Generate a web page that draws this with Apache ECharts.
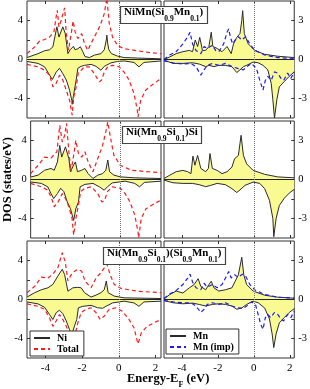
<!DOCTYPE html>
<html><head><meta charset="utf-8">
<script src="https://cdn.jsdelivr.net/npm/echarts@6/dist/echarts.min.js"></script>
<style>html,body{margin:0;padding:0;background:#fff}#c{width:310px;height:389px}</style>
</head><body><div id="c"></div>
<script>
// ---------- data (energy in eV, DOS in states/eV) ----------
// Row 1: NiMn(Si0.9Mn0.1)
const niUpA = [[-5,0.2],[-4.4,0.6],[-4.04,0.9],[-3.77,1.0],[-3.59,1.3],[-3.41,3.0],[-3.37,3.35],[-3.26,2.3],[-3.05,3.35],[-3.01,3.4],[-2.92,2.7],[-2.77,0.6],[-2.65,1.0],[-2.47,1.35],[-2.38,1.0],[-2.23,1.1],[-2.09,1.3],[-1.96,0.8],[-1.84,0.3],[-1.6,0.2],[-1.33,0.45],[-0.97,0.6],[-0.79,1.0],[-0.68,2.0],[-0.65,2.5],[-0.6,1.6],[-0.54,1.0],[-0.4,0.6],[-0.07,0.35],[0.29,0.2],[1.01,0.15],[2.3,0.07]];
const niDnA = [[-5,-0.2],[-4.4,-0.4],[-4.04,-0.75],[-3.77,-1.6],[-3.62,-2.05],[-3.41,-1.3],[-3.23,-0.9],[-3.05,-1.45],[-2.86,-2.1],[-2.68,-3.15],[-2.56,-4.2],[-2.54,-4.6],[-2.45,-3.5],[-2.32,-2.1],[-2.23,-0.9],[-2.05,-0.7],[-1.87,-0.6],[-1.51,-0.5],[-1.24,-0.7],[-0.97,-1.1],[-0.79,-0.7],[-0.43,-0.35],[-0.07,-0.2],[0.29,-0.15],[0.83,-0.3],[1.1,-0.75],[1.37,-0.3],[2.3,-0.15]];
const totUpA = [[-5,0.6],[-4.58,1.3],[-4.31,1.9],[-4.04,2.05],[-3.77,2.3],[-3.53,2.85],[-3.41,4.4],[-3.35,5.05],[-3.26,3.35],[-3.14,4.0],[-2.99,5.05],[-2.95,5.3],[-2.86,2.65],[-2.74,0.95],[-2.59,2.65],[-2.49,3.95],[-2.38,2.85],[-2.23,2.15],[-2.02,2.65],[-1.87,1.65],[-1.69,0.95],[-1.51,1.65],[-1.24,2.65],[-1.01,3.5],[-0.79,4.7],[-0.65,6.3],[-0.52,3.7],[-0.34,2.3],[-0.07,1.45],[0.29,1.1],[1.01,0.9],[1.73,0.7],[2.3,0.6]];
const totDnA = [[-5,-0.5],[-4.4,-0.75],[-4.04,-1.1],[-3.77,-1.6],[-3.59,-2.8],[-3.41,-2.45],[-3.23,-1.6],[-3.05,-2.1],[-2.86,-3.15],[-2.68,-4.2],[-2.54,-5.7],[-2.45,-3.8],[-2.32,-2.8],[-2.2,-1.3],[-2.05,-1.1],[-1.87,-0.75],[-1.6,-0.75],[-1.33,-1.45],[-1.06,-2.3],[-0.94,-2.1],[-0.79,-1.3],[-0.61,-0.75],[-0.34,-0.6],[0.02,-0.75],[0.29,-1.3],[0.56,-2.1],[0.83,-3.5],[1.01,-5.2],[1.05,-5.9],[1.19,-4.2],[1.46,-3.15],[1.82,-2.6],[2.3,-1.95]];
const mnUpA = [[-5,0],[-4.68,0.2],[-4.32,0.45],[-3.95,0.6],[-3.59,0.7],[-3.41,0.6],[-3.26,1.5],[-3.13,1.0],[-3.01,1.7],[-2.86,0.7],[-2.68,0.7],[-2.5,1.0],[-2.37,2.1],[-2.28,1.0],[-2.04,0.85],[-1.77,0.6],[-1.49,1.0],[-1.26,0.45],[-1.13,1.2],[-0.95,1.7],[-0.77,2.0],[-0.67,3.0],[-0.62,3.75],[-0.53,2.0],[-0.31,1.2],[0.05,0.7],[0.6,0.4],[1.33,0.25],[2.25,0.15]];
const mnDnA = [[-5,-0.05],[-4.5,-0.3],[-3.95,-0.3],[-3.41,-0.25],[-3.04,-0.35],[-2.68,-0.55],[-2.5,-0.45],[-2.22,-0.55],[-1.95,-0.45],[-1.58,-0.45],[-1.22,-0.55],[-0.95,-1.0],[-0.77,-0.8],[-0.58,-0.55],[-0.4,-0.45],[-0.04,-0.2],[0.24,-0.25],[0.51,-0.45],[0.78,-0.8],[0.97,-1.85],[1.06,-3.1],[1.15,-4.5],[1.28,-3.1],[1.42,-2.1],[1.69,-1.7],[1.97,-1.3],[2.25,-0.95]];
const impUpA = [[-5,0],[-4.68,0.35],[-4.32,0.6],[-3.95,1.2],[-3.68,1.75],[-3.55,2.1],[-3.41,1.2],[-3.22,0.7],[-2.95,0.45],[-2.77,1.0],[-2.59,0.85],[-2.31,1.1],[-2.13,0.7],[-1.95,0.6],[-1.68,1.2],[-1.49,2.1],[-1.4,2.35],[-1.31,1.75],[-1.18,1.2],[-1.04,1.5],[-0.86,1.75],[-0.67,1.5],[-0.46,1.75],[-0.22,1.2],[0.05,0.7],[0.6,0.35],[1.33,0.15],[2.25,0.08]];
const impDnA = [[-5,-0.1],[-4.5,-0.25],[-3.95,-0.35],[-3.5,-0.3],[-3.22,-0.55],[-2.95,-1.2],[-2.77,-0.8],[-2.59,-0.45],[-2.31,-0.3],[-1.95,-0.45],[-1.58,-0.3],[-1.22,-0.55],[-0.86,-0.7],[-0.58,-0.8],[-0.4,-0.55],[-0.13,-0.3],[0.15,-0.7],[0.33,-1.6],[0.51,-2.35],[0.64,-1.6],[0.78,-1.3],[0.97,-1.6],[1.15,-0.95],[1.33,-1.05],[1.51,-1.45],[1.66,-1.6],[1.88,-1.05],[2.06,-1.45],[2.25,-0.95]];
// Row 2: Ni(Mn0.9Si0.1)Si
const niUpB = [[-5,0.25],[-4.58,0.45],[-4.22,0.95],[-3.86,1.13],[-3.68,0.95],[-3.5,1.8],[-3.37,3.5],[-3.26,2.3],[-3.05,3.35],[-2.86,2.15],[-2.77,0.8],[-2.59,1.5],[-2.49,1.8],[-2.38,0.8],[-2.14,0.95],[-1.96,1.13],[-1.78,0.6],[-1.51,0.1],[-1.24,0.45],[-0.97,0.6],[-0.79,0.95],[-0.68,2.0],[-0.58,0.8],[-0.34,0.45],[0.02,0.27],[0.83,0.17],[2.3,0.1]];
const niDnB = [[-5,-0.25],[-4.4,-0.4],[-4.04,-0.75],[-3.86,-1.45],[-3.71,-1.95],[-3.5,-1.45],[-3.32,-0.9],[-3.14,-1.25],[-2.95,-2.3],[-2.77,-3.0],[-2.59,-4.2],[-2.47,-3.0],[-2.32,-2.3],[-2.23,-0.75],[-1.96,-0.5],[-1.51,-0.4],[-1.15,-0.75],[-0.88,-1.1],[-0.7,-0.75],[-0.43,-0.35],[0.29,-0.17],[0.83,-0.4],[1.1,-0.75],[1.37,-0.3],[2.3,-0.17]];
const totUpB = [[-5,0.6],[-4.58,1.45],[-4.22,2.3],[-3.86,2.2],[-3.53,2.85],[-3.37,5.55],[-3.23,3.85],[-3.1,4.5],[-2.99,5.75],[-2.86,2.85],[-2.74,0.8],[-2.59,2.5],[-2.47,4.0],[-2.32,2.65],[-2.14,2.3],[-1.96,2.85],[-1.78,1.8],[-1.51,0.8],[-1.24,2.15],[-0.97,3.5],[-0.79,4.9],[-0.68,5.9],[-0.52,4.2],[-0.34,2.5],[0.02,1.45],[0.65,0.95],[1.55,0.8],[2.3,0.7]];
const totDnB = [[-5,-0.4],[-4.4,-0.75],[-4.04,-1.1],[-3.82,-1.95],[-3.68,-2.8],[-3.46,-2.3],[-3.23,-1.45],[-3.05,-1.95],[-2.86,-2.8],[-2.68,-4.0],[-2.59,-5.7],[-2.45,-3.8],[-2.32,-2.6],[-2.2,-1.25],[-1.96,-0.9],[-1.6,-0.75],[-1.24,-1.45],[-1.01,-2.3],[-0.86,-2.15],[-0.7,-1.25],[-0.43,-0.75],[0.02,-0.9],[0.29,-1.45],[0.56,-2.3],[0.83,-3.65],[1.01,-5.35],[1.05,-6.0],[1.19,-4.0],[1.46,-3.0],[1.82,-2.6],[2.3,-2.1]];
const mnUpB = [[-5,0.08],[-4.68,0.33],[-4.32,0.6],[-3.95,0.7],[-3.68,0.6],[-3.5,0.45],[-3.39,1.8],[-3.28,1.1],[-3.13,1.85],[-2.95,0.85],[-2.68,0.6],[-2.53,0.85],[-2.44,2.0],[-2.31,0.85],[-2.04,0.7],[-1.77,0.45],[-1.49,0.6],[-1.22,0.95],[-1.07,1.6],[-0.86,1.85],[-0.71,3.4],[-0.58,1.85],[-0.4,1.2],[-0.04,0.7],[0.6,0.4],[1.33,0.2],[2.25,0.13]];
const mnDnB = [[-5,-0.05],[-4.5,-0.25],[-3.95,-0.3],[-3.41,-0.3],[-3.04,-0.4],[-2.68,-0.55],[-2.4,-0.45],[-2.04,-0.3],[-1.58,-0.4],[-1.22,-0.7],[-0.95,-1.0],[-0.77,-0.8],[-0.49,-0.45],[-0.04,-0.2],[0.33,-0.3],[0.6,-0.7],[0.87,-1.6],[1.06,-3.0],[1.11,-4.4],[1.24,-3.0],[1.42,-2.0],[1.69,-1.45],[1.97,-1.05],[2.25,-0.75]];
// Row 3: Ni(Mn0.9Si0.1)(Si0.9Mn0.1)
const niUpC = [[-5,0.25],[-4.58,0.7],[-4.22,1.0],[-3.86,1.2],[-3.59,1.55],[-3.32,2.4],[-3.08,3.1],[-2.95,2.55],[-2.77,0.85],[-2.5,1.2],[-2.23,1.25],[-2.05,1.2],[-1.87,0.7],[-1.51,0.25],[-1.24,0.45],[-0.97,0.7],[-0.79,1.0],[-0.68,1.9],[-0.58,0.7],[-0.25,0.35],[0.29,0.17],[2.3,0.1]];
const niDnC = [[-5,-0.25],[-4.4,-0.45],[-4.04,-0.8],[-3.77,-1.55],[-3.59,-2.05],[-3.41,-1.35],[-3.23,-1.1],[-3.05,-1.45],[-2.86,-2.2],[-2.68,-3.1],[-2.56,-3.6],[-2.41,-2.7],[-2.29,-2.05],[-2.2,-0.85],[-1.96,-0.7],[-1.51,-0.6],[-1.15,-0.85],[-0.88,-0.9],[-0.7,-0.7],[-0.34,-0.35],[0.29,-0.17],[0.83,-0.35],[1.1,-0.7],[1.37,-0.25],[2.3,-0.17]];
const totUpC = [[-5,0.7],[-4.58,1.35],[-4.22,2.3],[-3.86,2.2],[-3.59,2.6],[-3.32,3.25],[-3.08,4.8],[-2.92,3.9],[-2.77,1.9],[-2.59,2.55],[-2.41,2.9],[-2.23,3.1],[-2.02,2.9],[-1.84,1.9],[-1.51,1.2],[-1.24,2.2],[-0.97,2.75],[-0.79,3.25],[-0.65,3.65],[-0.47,2.55],[-0.25,1.55],[0.11,1.15],[1.01,0.85],[2.3,0.7]];
const totDnC = [[-5,-0.45],[-4.4,-0.7],[-4.04,-1.0],[-3.77,-1.9],[-3.59,-2.75],[-3.41,-2.2],[-3.23,-1.55],[-3.05,-2.05],[-2.86,-2.75],[-2.68,-3.6],[-2.5,-4.3],[-2.38,-3.6],[-2.23,-2.4],[-2.05,-1.35],[-1.78,-1.0],[-1.51,-0.85],[-1.24,-1.35],[-1.01,-2.05],[-0.79,-1.7],[-0.52,-1.0],[-0.16,-0.85],[0.2,-1.2],[0.56,-2.05],[0.83,-2.9],[1.01,-4.3],[1.05,-4.55],[1.23,-3.4],[1.55,-2.75],[1.91,-2.4],[2.3,-2.05]];
const mnUpC = [[-5,0.05],[-4.68,0.38],[-4.32,0.65],[-3.95,0.5],[-3.59,0.9],[-3.32,1.15],[-3.1,1.6],[-2.95,1.0],[-2.68,0.75],[-2.5,1.15],[-2.37,1.4],[-2.22,0.9],[-1.95,0.65],[-1.58,0.75],[-1.22,0.9],[-1.04,1.4],[-0.86,1.9],[-0.67,3.25],[-0.56,1.9],[-0.4,1.15],[-0.04,0.65],[0.6,0.33],[1.33,0.18],[2.25,0.1]];
const mnDnC = [[-5,-0.08],[-4.5,-0.25],[-3.95,-0.33],[-3.41,-0.28],[-3.04,-0.38],[-2.68,-0.5],[-2.31,-0.38],[-1.95,-0.33],[-1.58,-0.38],[-1.22,-0.5],[-0.95,-0.75],[-0.67,-0.65],[-0.4,-0.38],[-0.04,-0.13],[0.24,-0.25],[0.6,-0.65],[0.87,-1.5],[1.02,-2.65],[1.11,-3.7],[1.24,-2.65],[1.42,-1.8],[1.69,-1.4],[1.97,-1.0],[2.25,-0.7]];
const impUpC = [[-5,0.08],[-4.68,0.43],[-4.32,0.7],[-3.95,1.15],[-3.68,1.65],[-3.55,1.95],[-3.41,1.35],[-3.22,0.9],[-2.95,0.75],[-2.77,1.25],[-2.59,0.95],[-2.31,1.15],[-2.04,0.9],[-1.77,1.15],[-1.58,1.65],[-1.4,2.15],[-1.26,1.65],[-1.07,1.9],[-0.86,1.7],[-0.64,1.95],[-0.46,1.8],[-0.22,1.15],[0.05,0.75],[0.6,0.38],[1.33,0.18],[2.25,0.1]];
const impDnC = [[-5,-0.08],[-4.5,-0.18],[-3.95,-0.25],[-3.5,-0.25],[-3.22,-0.5],[-2.95,-1.0],[-2.77,-0.75],[-2.59,-0.38],[-2.31,-0.25],[-1.95,-0.38],[-1.58,-0.25],[-1.22,-0.5],[-0.86,-0.65],[-0.58,-0.7],[-0.4,-0.5],[-0.13,-0.18],[0.09,-0.38],[0.24,-1.15],[0.38,-1.9],[0.51,-2.3],[0.64,-1.4],[0.78,-1.15],[0.93,-1.4],[1.15,-1.0],[1.33,-1.15],[1.51,-1.5],[1.66,-1.65],[1.88,-1.15],[2.06,-1.4],[2.25,-0.9]];

const xTicks = [-4, -2, 0, 2];
const yTicksLeft = [-4, -2, 0, 2, 4];
const yLabelsLeft = [-4, 0, 4];
const yTicksRight = [-3, -1.5, 0, 1.5, 3];
const yLabelsRight = [-3, 0, 3];
const panelTitles = [
  '{n|NiMn(Si}{s|0.9}{n|Mn}{s|0.1}{n|)}',
  '{n|Ni(Mn}{s|0.9}{n|Si}{s|0.1}{n|)Si}',
  '{n|Ni(Mn}{s|0.9}{n|Si}{s|0.1}{n|)(Si}{s|0.9}{n|Mn}{s|0.1}{n|)}'
];

// panels: [row][col] -> list of [name, data, kind]
const panels = [
  [[['Ni', niUpA, 'fill'], ['Ni', niDnA, 'fill'], ['Total', totUpA, 'red'], ['Total', totDnA, 'red']],
   [['Mn', mnUpA, 'fill'], ['Mn', mnDnA, 'fill'], ['Mn (imp)', impUpA, 'blue'], ['Mn (imp)', impDnA, 'blue']]],
  [[['Ni', niUpB, 'fill'], ['Ni', niDnB, 'fill'], ['Total', totUpB, 'red'], ['Total', totDnB, 'red']],
   [['Mn', mnUpB, 'fill'], ['Mn', mnDnB, 'fill']]],
  [[['Ni', niUpC, 'fill'], ['Ni', niDnC, 'fill'], ['Total', totUpC, 'red'], ['Total', totDnC, 'red']],
   [['Mn', mnUpC, 'fill'], ['Mn', mnDnC, 'fill'], ['Mn (imp)', impUpC, 'blue'], ['Mn (imp)', impDnC, 'blue']]]
];

// ---------- layout ----------
const FONT = 'Liberation Serif';
const rowTop = [1, 121, 241];
const rowH = 117;
const colLeft = [27, 164];
const colW = [134, 133];
const colXMax = [2.3, 2.25];

const grid = [], xAxis = [], yAxis = [], series = [];
for (let r = 0; r < 3; r++) {
  for (let c = 0; c < 2; c++) {
    const gi = grid.length;
    grid.push({left: colLeft[c], top: rowTop[r], width: colW[c], height: rowH,
      show: true, borderColor: '#333', borderWidth: 1, backgroundColor: 'transparent'});
    const tickStyle = {inside: true, length: 3, customValues: xTicks, lineStyle: {color: '#333', width: 1}};
    xAxis.push({gridIndex: gi, type: 'value', min: -5, max: colXMax[c], position: 'bottom',
      axisLine: {show: false, onZero: false}, splitLine: {show: false},
      axisTick: tickStyle,
      axisLabel: {show: r === 2, customValues: xTicks, fontFamily: FONT, fontSize: 11, color: '#000', margin: 5}});
    xAxis.push({gridIndex: gi, type: 'value', min: -5, max: colXMax[c], position: 'top',
      axisLine: {show: false, onZero: false}, splitLine: {show: false},
      axisTick: tickStyle, axisLabel: {show: false}});
    const ya = {gridIndex: gi, type: 'value', min: c === 0 ? -6 : -4.5, max: c === 0 ? 6 : 4.5,
      position: c === 0 ? 'left' : 'right',
      axisLine: {show: false, onZero: false}, splitLine: {show: false},
      axisTick: {inside: true, length: 3, customValues: c === 0 ? yTicksLeft : yTicksRight, lineStyle: {color: '#333'}},
      axisLabel: {customValues: c === 0 ? yLabelsLeft : yLabelsRight, fontFamily: FONT, fontSize: 10.5, color: '#000', margin: 4}};
    if (r === 1 && c === 0) {
      ya.name = 'DOS (states/eV)';
      ya.nameLocation = 'middle';
      ya.nameGap = 9;
      ya.nameTextStyle = {fontFamily: FONT, fontWeight: 'bold', fontSize: 12.5, color: '#000'};
    }
    yAxis.push(ya);
    const list = panels[r][c];
    list.forEach((s, k) => {
      const kind = s[2];
      const o = {type: 'line', name: s[0], data: s[1], xAxisIndex: 2 * gi, yAxisIndex: gi,
        symbol: 'none', smooth: false, animation: false, clip: true};
      if (kind === 'fill') {
        o.lineStyle = {color: '#2a2a2a', width: 1};
        o.itemStyle = {color: '#2a2a2a'};
        o.areaStyle = {color: '#fafa92', opacity: 1, origin: 0};
        o.z = 2;
      } else {
        const col = kind === 'red' ? '#ff1a1a' : '#1a1aff';
        o.lineStyle = {color: col, width: 1.2, type: [4, 3]};
        o.itemStyle = {color: col};
        o.z = 3;
      }
      if (k === list.length - 1) {
        o.markLine = {silent: true, symbol: 'none', label: {show: false}, animation: false,
          data: [
            {yAxis: 0, lineStyle: {color: '#222', type: 'solid', width: 1}},
            {xAxis: 0, lineStyle: {color: '#777', type: 'dotted', width: 1}}
          ]};
      }
      series.push(o);
    });
  }
}

const richBase = {
  n: {fontFamily: FONT, fontWeight: 'bold', fontSize: 11, color: '#000', lineHeight: 14, verticalAlign: 'top'},
  s: {fontFamily: FONT, fontWeight: 'bold', fontSize: 7.5, color: '#000', lineHeight: 8, padding: [8, 0, 0, 0], verticalAlign: 'top'}
};
const titleBoxes = [[120, 6], [122, 126], [103, 247]];
const title = panelTitles.map((t, i) => ({
  text: t, left: titleBoxes[i][0], top: titleBoxes[i][1],
  backgroundColor: '#fff', borderColor: '#444', borderWidth: 1.2,
  padding: [1, 4, 1, 4], textStyle: {rich: richBase}
}));
title.push({text: '{n|Energy-E}{s|F}{n| (eV)}', left: 127, top: 372, padding: 0,
  textStyle: {rich: {
    n: {fontFamily: FONT, fontWeight: 'bold', fontSize: 12.5, color: '#000', lineHeight: 15, verticalAlign: 'top'},
    s: {fontFamily: FONT, fontWeight: 'bold', fontSize: 8, color: '#000', lineHeight: 8, padding: [9, 0, 0, 0], verticalAlign: 'top'}
  }}});

const legendCommon = {orient: 'vertical', itemWidth: 16, itemHeight: 8, itemGap: 1,
  padding: [2, 5, 2, 3], borderColor: '#333', borderWidth: 1, backgroundColor: '#fff',
  selectedMode: false,
  itemStyle: {opacity: 0},
  textStyle: {fontFamily: FONT, fontWeight: 'bold', fontSize: 10, color: '#000', padding: [0, 0, 0, 2]}};
const legend = [
  Object.assign({}, legendCommon, {data: ['Ni', 'Total'], left: 30, top: 331}),
  Object.assign({}, legendCommon, {data: ['Mn', 'Mn (imp)'], left: 166, top: 329})
];

const chart = echarts.init(document.getElementById('c'), null, {renderer: 'canvas'});
chart.setOption({animation: false, title, legend, grid, xAxis, yAxis, series});
</script></body></html>
